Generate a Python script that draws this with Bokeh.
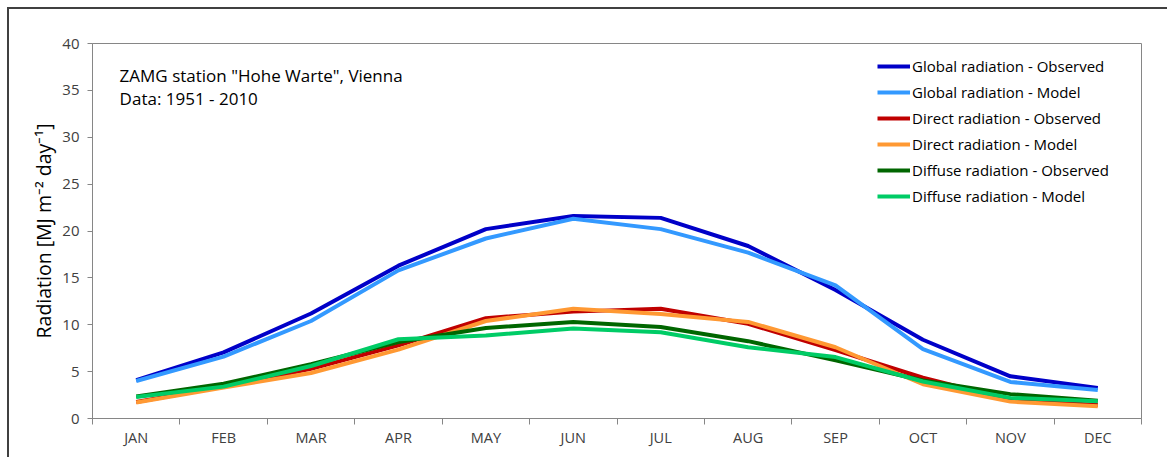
from bokeh.plotting import figure
from bokeh.models import FixedTicker, Legend, LegendItem, Label, Range1d
from bokeh.embed import file_html
from bokeh.resources import INLINE

months = ["JAN", "FEB", "MAR", "APR", "MAY", "JUN", "JUL", "AUG", "SEP", "OCT", "NOV", "DEC"]
global_obs = [4.1, 7.05, 11.2, 16.3, 20.2, 21.6, 21.4, 18.4, 13.7, 8.4, 4.5, 3.25]
global_mod = [4.0, 6.6, 10.4, 15.8, 19.2, 21.3, 20.2, 17.7, 14.2, 7.4, 3.9, 3.05]
direct_obs = [1.75, 3.4, 5.3, 7.8, 10.7, 11.4, 11.7, 10.1, 7.3, 4.35, 2.0, 1.45]
direct_mod = [1.7, 3.3, 4.85, 7.35, 10.4, 11.7, 11.15, 10.3, 7.6, 3.65, 1.8, 1.3]
diffuse_obs = [2.35, 3.7, 5.8, 8.15, 9.65, 10.3, 9.75, 8.25, 6.2, 4.05, 2.6, 1.9]
diffuse_mod = [2.3, 3.4, 5.6, 8.45, 8.85, 9.6, 9.2, 7.6, 6.55, 3.95, 2.2, 1.85]
y_ticks = [0, 5, 10, 15, 20, 25, 30, 35, 40]

series = [
    ("Global radiation - Observed", global_obs, "#0000C8"),
    ("Global radiation - Model", global_mod, "#3399FF"),
    ("Direct radiation - Observed", direct_obs, "#C00000"),
    ("Direct radiation - Model", direct_mod, "#FF9933"),
    ("Diffuse radiation - Observed", diffuse_obs, "#006600"),
    ("Diffuse radiation - Model", diffuse_mod, "#00CC66"),
]

xs = [i + 0.5 for i in range(len(months))]
FONT = "Open Sans"
AX = "#868686"

p = figure(width=1160, height=450, output_backend="svg", toolbar_location=None,
           x_range=Range1d(0, len(months)), y_range=Range1d(0, 40),
           min_border_left=83, min_border_right=28, min_border_top=34, min_border_bottom=41)
p.margin = (7, 0, 0, 7)
p.styles = {"border-left": "2px solid #404040", "border-top": "2px solid #404040"}
p.grid.visible = False
p.outline_line_color = AX
p.outline_line_width = 1
p.background_fill_color = "white"
p.border_fill_color = "white"

# x axis: labels at centres, tick marks at category boundaries
xa = p.xaxis[0]
xa.ticker = FixedTicker(ticks=xs, minor_ticks=list(range(len(months) + 1)))
xa.major_label_overrides = {x: m for x, m in zip(xs, months)}
xa.major_tick_line_color = None
xa.major_tick_out = 0
xa.major_tick_in = 0
xa.minor_tick_line_color = AX
xa.minor_tick_out = 6
xa.minor_tick_in = 0
xa.axis_line_color = AX
xa.major_label_text_font = FONT
xa.major_label_text_font_size = "14.5px"
xa.major_label_text_color = "#404040"
xa.major_label_standoff = 3

ya = p.yaxis[0]
ya.ticker = FixedTicker(ticks=y_ticks, minor_ticks=[])
ya.axis_line_color = AX
ya.major_tick_line_color = AX
ya.major_tick_out = 5
ya.major_tick_in = 0
ya.minor_tick_line_color = None
ya.major_label_text_font = FONT
ya.major_label_text_font_size = "15px"
ya.major_label_text_color = "#404040"
ya.major_label_standoff = 8
ya.axis_label = "Radiation [MJ m\u207b\u00b2 day\u207b\u00b9]"
ya.axis_label_text_font = FONT
ya.axis_label_text_font_size = "19.5px"
ya.axis_label_text_font_style = "normal"
ya.axis_label_text_color = "#000000"
ya.axis_label_standoff = 2

items = []
for name, vals, col in series:
    r = p.line(xs, vals, line_color=col, line_width=4)
    items.append(LegendItem(label=name, renderers=[r]))

legend = Legend(items=items, location=(785, 212), border_line_color=None,
                background_fill_alpha=0, label_text_font=FONT, label_text_font_size="15px",
                label_text_color="#000000", glyph_width=33, glyph_height=20, label_height=20,
                spacing=6, label_standoff=2, padding=10, margin=0)
p.add_layout(legend)

p.add_layout(Label(x=0.31, y=36.6, text='ZAMG station "Hohe Warte", Vienna', text_font=FONT,
                   text_font_size="17px", text_baseline="middle", text_color="#000000"))
p.add_layout(Label(x=0.31, y=34.1, text="Data: 1951 - 2010", text_font=FONT,
                   text_font_size="17px", text_baseline="middle", text_color="#000000"))

open("out.html", "w").write(file_html(p, INLINE))
